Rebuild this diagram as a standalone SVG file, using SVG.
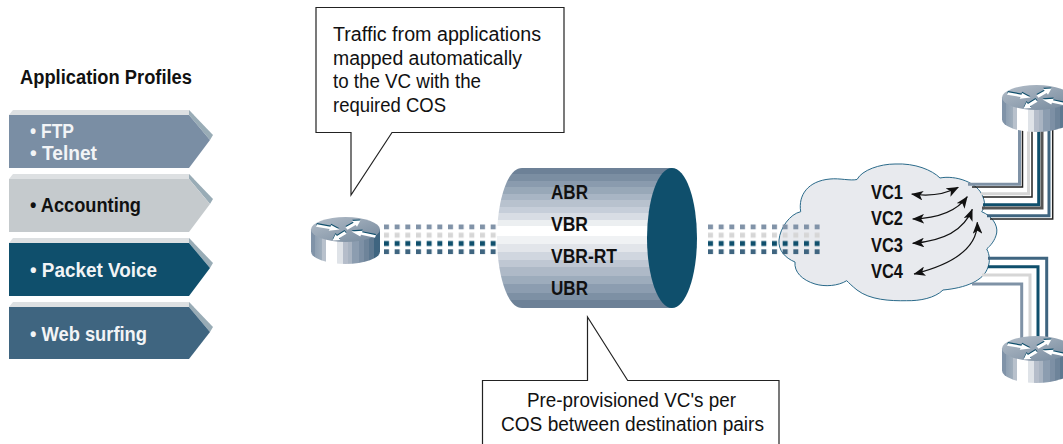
<svg xmlns="http://www.w3.org/2000/svg" xmlns:xlink="http://www.w3.org/1999/xlink" width="1063" height="444" viewBox="0 0 1063 444">
<style>
text{font-family:"Liberation Sans",Arial,sans-serif;font-size:20px;fill:#111}
.b{font-weight:bold}
.w{fill:#f2f4f6}
.call{fill:#fff;stroke:#222;stroke-width:1.2}
.strip{fill:#dde0e2}
.shade{fill:#99acb6}
.wire{fill:none;stroke-width:3}
.thin{fill:none;stroke-width:1.5}
.vc{fill:none;stroke:#111;stroke-width:1.2;marker-start:url(#ah);marker-end:url(#ah)}
</style>
<defs>
<marker id="ah" viewBox="0 0 10 8" refX="9.5" refY="4" markerWidth="12" markerHeight="9.6" markerUnits="userSpaceOnUse" orient="auto-start-reverse"><path d="M0 0L10 4L0 8L2.5 4Z" fill="#111"/></marker>
<linearGradient id="cyl" x1="0" y1="0" x2="0" y2="1">
<stop offset="0" stop-color="#6d8197"/><stop offset=".046" stop-color="#6d8197"/>
<stop offset=".046" stop-color="#7b8ea2"/><stop offset=".092" stop-color="#7b8ea2"/>
<stop offset=".092" stop-color="#8a9bae"/><stop offset=".138" stop-color="#8a9bae"/>
<stop offset=".138" stop-color="#98a8b8"/><stop offset=".184" stop-color="#98a8b8"/>
<stop offset=".184" stop-color="#a8b5c4"/><stop offset=".23" stop-color="#a8b5c4"/>
<stop offset=".23" stop-color="#b8c2ce"/><stop offset=".276" stop-color="#b8c2ce"/>
<stop offset=".276" stop-color="#c6ced9"/><stop offset=".322" stop-color="#c6ced9"/>
<stop offset=".322" stop-color="#d8dde4"/><stop offset=".368" stop-color="#d8dde4"/>
<stop offset=".368" stop-color="#eceff1"/><stop offset=".414" stop-color="#eceff1"/>
<stop offset=".414" stop-color="#fff"/><stop offset=".486" stop-color="#fff"/>
<stop offset=".486" stop-color="#f0f2f4"/><stop offset=".54" stop-color="#f0f2f4"/>
<stop offset=".54" stop-color="#e2e5ea"/><stop offset=".6" stop-color="#e2e5ea"/>
<stop offset=".6" stop-color="#d0d6df"/><stop offset=".655" stop-color="#d0d6df"/>
<stop offset=".655" stop-color="#bfc7d3"/><stop offset=".71" stop-color="#bfc7d3"/>
<stop offset=".71" stop-color="#aeb9c7"/><stop offset=".77" stop-color="#aeb9c7"/>
<stop offset=".77" stop-color="#9dacbc"/><stop offset=".83" stop-color="#9dacbc"/>
<stop offset=".83" stop-color="#8c9db0"/><stop offset=".89" stop-color="#8c9db0"/>
<stop offset=".89" stop-color="#7d90a4"/><stop offset=".945" stop-color="#7d90a4"/>
<stop offset=".945" stop-color="#6d8197"/><stop offset="1" stop-color="#6d8197"/>
</linearGradient>
<linearGradient id="side" x1="0" y1="0" x2="1" y2="0">
<stop offset="0" stop-color="#8093a8"/><stop offset=".06" stop-color="#8093a8"/>
<stop offset=".06" stop-color="#8fa0b2"/><stop offset=".16" stop-color="#a0aebc"/>
<stop offset=".16" stop-color="#b8c1cc"/><stop offset=".22" stop-color="#b8c1cc"/>
<stop offset=".22" stop-color="#fff"/><stop offset=".38" stop-color="#fff"/>
<stop offset=".38" stop-color="#dfe3e8"/><stop offset=".46" stop-color="#dfe3e8"/>
<stop offset=".46" stop-color="#b5bdca"/><stop offset=".53" stop-color="#b5bdca"/>
<stop offset=".53" stop-color="#a9b4c2"/><stop offset=".6" stop-color="#a9b4c2"/>
<stop offset=".6" stop-color="#8c9db0"/><stop offset=".7" stop-color="#8c9db0"/>
<stop offset=".7" stop-color="#7d90a5"/><stop offset=".77" stop-color="#7d90a5"/>
<stop offset=".77" stop-color="#6e849a"/><stop offset=".84" stop-color="#6e849a"/>
<stop offset=".84" stop-color="#5d7890"/><stop offset=".91" stop-color="#5d7890"/>
<stop offset=".91" stop-color="#3f6580"/><stop offset="1" stop-color="#3f6580"/>
</linearGradient>
<linearGradient id="rtop" x1="0" y1="0" x2="1" y2="1">
<stop offset="0" stop-color="#b4bec9"/><stop offset="1" stop-color="#74889c"/>
</linearGradient>
<pattern id="dots" patternUnits="userSpaceOnUse" width="10.667" height="34">
<rect width="5" height="5" y="0" fill="#8193a8"/>
<rect width="5" height="5" y="8.4" fill="#d6d6d6"/>
<rect width="5" height="5" y="16.7" fill="#0f4f6c"/>
<rect width="5" height="5" y="25" fill="#3f6580"/>
</pattern>
<polygon id="ar" points="0,-2 14,-2 14,-4.8 24,0 14,4.8 14,2 0,2"/>
<g id="arrows">
<use href="#ar" transform="matrix(.96 .167 -.25 .6 -29 -4)"/>
<use href="#ar" transform="matrix(.58 -.33 .5 .6 1 -1)"/>
<use href="#ar" transform="matrix(-1 -.21 .25 -.6 30 7)"/>
<use href="#ar" transform="matrix(-.54 .33 -.5 -.6 0 3)"/>
</g>
<g id="router">
<path d="M-34.5 0V22A34.5 12.5 0 0 0 34.5 22V0Z" fill="url(#side)"/>
<ellipse rx="34.5" ry="12.5" fill="url(#rtop)"/>
<use href="#arrows" fill="#0f4f6c" transform="translate(0 -1.2)"/>
<use href="#arrows" fill="#fff"/>
</g>
</defs>

<g id="profile-title"><text class="b" x="20" y="84" textLength="172" lengthAdjust="spacingAndGlyphs">Application Profiles</text></g>

<g id="profile-ftp">
<path class="strip" d="M9 115L13 110H189L194 115Z"/>
<path class="shade" d="M189 110L213 135L210 140L189 115Z"/>
<path fill="#7a8ea4" d="M9 115H189L210 140L189 168H9Z"/>
<text class="b w" x="30" y="138" textLength="44" lengthAdjust="spacingAndGlyphs">• FTP</text>
<text class="b w" x="30" y="159.5" textLength="67" lengthAdjust="spacingAndGlyphs">• Telnet</text>
</g>
<g id="profile-accounting">
<path class="strip" d="M9 179L13 174H189L194 179Z"/>
<path class="shade" d="M189 174L213 199L210 204L189 179Z"/>
<path fill="#c5cacd" d="M9 179H189L210 204L189 232H9Z"/>
<text class="b" x="30" y="212" textLength="111" lengthAdjust="spacingAndGlyphs">• Accounting</text>
</g>
<g id="profile-voice">
<path class="strip" d="M9 243L13 238H189L194 243Z"/>
<path class="shade" d="M189 238L213 263L210 268L189 243Z"/>
<path fill="#0f4f6c" d="M9 243H189L210 268L189 296H9Z"/>
<text class="b w" x="30" y="276.5" textLength="127" lengthAdjust="spacingAndGlyphs">• Packet Voice</text>
</g>
<g id="profile-web">
<path class="strip" d="M9 307L13 302H189L194 307Z"/>
<path class="shade" d="M189 302L213 327L210 332L189 307Z"/>
<path fill="#3f6580" d="M9 307H189L210 332L189 359H9Z"/>
<text class="b w" x="30" y="340.5" textLength="117" lengthAdjust="spacingAndGlyphs">• Web surfing</text>
</g>

<g id="callout-traffic">
<path class="call" d="M316 7.5H564V132.5H392L351 195V132.5H316Z"/>
<text x="333" y="41" textLength="208" lengthAdjust="spacingAndGlyphs">Traffic from applications</text>
<text x="333" y="64.5" textLength="189" lengthAdjust="spacingAndGlyphs">mapped automatically</text>
<text x="333" y="88" textLength="148" lengthAdjust="spacingAndGlyphs">to the VC with the</text>
<text x="333" y="112" textLength="113" lengthAdjust="spacingAndGlyphs">required COS</text>
</g>

<g id="callout-preprovisioned">
<path class="call" d="M482.5 444V380.5H587.5V317L627.7 380.5H779V444"/>
<text x="527" y="406.7" textLength="209" lengthAdjust="spacingAndGlyphs">Pre-provisioned VC's per</text>
<text x="501" y="431" textLength="263" lengthAdjust="spacingAndGlyphs">COS between destination pairs</text>
</g>

<g id="cloud">
<path fill="#e8eaee" stroke="#2a6a8a" stroke-width="1" d="M800.7 211.7C798 195 808 181 830 179C840 178 850 181 857 179.5C862 170 880 164 895 164C915 163 932 170 940 178C955 175 978 182 983 197C986 205 984 208 981.7 211.7C992 216 998 225 996.7 233C995 241 990 246 986.7 249C990 255 990 262 988 267C984 281 965 288 943 290C935 298 920 301 906.7 300.7C890 301 870 300 857 290C852 286 849 283 846.7 280.7C838 286 825 287 815 284C802 280 794 272 795 262C785 258 778 250 779 240C780 228 790 214 800.7 211.7Z"/>
</g>

<g id="connectors">
<rect x="0" y="0" width="116" height="30" fill="url(#dots)" transform="translate(384 224.3)"/>
<rect x="0" y="0" width="112" height="30" fill="url(#dots)" transform="translate(708 224.3)"/>
<path class="wire" stroke="#7f92a6" d="M968 184.3H1019.5V120"/>
<path class="thin" stroke="#222" d="M972 187H1022.5V120"/>
<path class="wire" stroke="#d6d6d6" d="M981 193.7H1028.5V120"/>
<path class="thin" stroke="#222" d="M983 197H1032V120"/>
<path class="wire" stroke="#0f4f6c" d="M983 204.7H1038.7V120"/>
<path class="wire" stroke="#555" stroke-width="2" d="M982 208H1042V120"/>
<path class="wire" stroke="#3f6580" d="M987 215.7H1049V120"/>
<path class="thin" stroke="#222" d="M990 219H1052.7V120"/>
<path class="wire" stroke="#3f6580" d="M988 258.3H1046.7V350"/>
<path class="wire" stroke="#0f4f6c" d="M988 266.7H1038V350"/>
<path class="wire" stroke="#d6d6d6" d="M982 275H1030V350"/>
<path class="wire" stroke="#7f92a6" d="M972 284H1021.7V350"/>
<path class="vc" d="M911.7 194Q938 198 958.3 187.3"/>
<path class="vc" d="M912.7 219Q952 218 967.3 196.7"/>
<path class="vc" d="M912.7 243.3Q960 240 972.3 209.3"/>
<path class="vc" d="M914 274Q978 258 977.3 222.3"/>
</g>

<g id="vc-labels">
<text class="b" x="871" y="198.5" textLength="32" lengthAdjust="spacingAndGlyphs">VC1</text>
<text class="b" x="871" y="225" textLength="32" lengthAdjust="spacingAndGlyphs">VC2</text>
<text class="b" x="871" y="251.5" textLength="32" lengthAdjust="spacingAndGlyphs">VC3</text>
<text class="b" x="871" y="277.5" textLength="32" lengthAdjust="spacingAndGlyphs">VC4</text>
</g>

<g id="router-left"><use href="#router" transform="translate(345.5 229.5)"/></g>
<g id="router-top"><use href="#router" transform="translate(1036.5 97.5)"/></g>
<g id="router-bottom"><use href="#router" transform="translate(1036.5 348.5)"/></g>

<g id="cylinder">
<path d="M672 168H522C506 168 497 205 497 238C497 271 506 308 522 308H672Z" fill="url(#cyl)"/>
<ellipse cx="672" cy="238" rx="25" ry="70" fill="#0f4f6c"/>
<text class="b" x="551" y="198.5" textLength="37" lengthAdjust="spacingAndGlyphs">ABR</text>
<text class="b" x="551" y="230.5" textLength="37" lengthAdjust="spacingAndGlyphs">VBR</text>
<text class="b" x="551" y="262.5" textLength="66" lengthAdjust="spacingAndGlyphs">VBR-RT</text>
<text class="b" x="551" y="294.5" textLength="37" lengthAdjust="spacingAndGlyphs">UBR</text>
</g>
</svg>
